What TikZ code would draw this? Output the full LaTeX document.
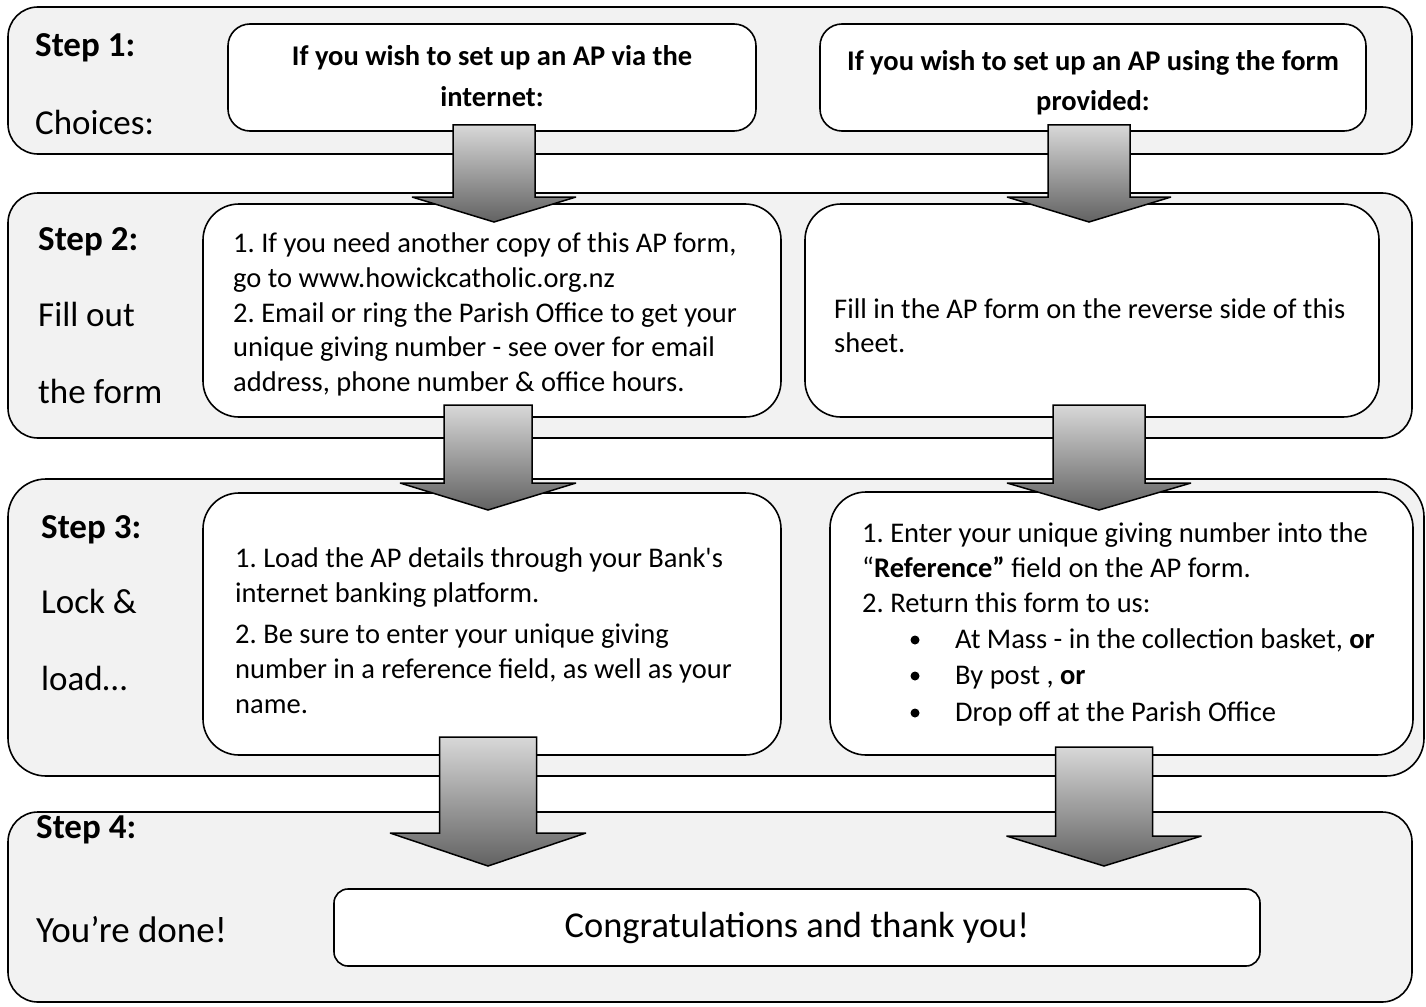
\documentclass[tikz,border=0pt]{standalone}
\usepackage{fontspec}
\setmainfont{Carlito}[Ligatures=TeXOff]
\definecolor{bandgray}{HTML}{F2F2F2}
\definecolor{arrowtop}{HTML}{D8D8D8}
\definecolor{arrowbot}{HTML}{626262}
\tikzset{
  band/.style={draw, line width=1.6pt, fill=bandgray, rounded corners=#1, inner sep=0pt},
  band/.default=30pt,
  box/.style={draw, line width=1.6pt, fill=white, rounded corners=#1, inner sep=0pt},
  box/.default=36pt,
  body/.style={anchor=base west, inner sep=0pt, font=\fontsize{28.5}{34.8}\selectfont},
  headline/.style={anchor=base, inner sep=0pt, font=\fontsize{28.5}{34.8}\selectfont\bfseries},
  steptitle/.style={anchor=base west, inner sep=0pt, font=\fontsize{35}{42}\selectfont\bfseries},
  steplabel/.style={anchor=base west, inner sep=0pt, font=\fontsize{35}{42}\selectfont},
  bulletdot/.style={circle, fill=black, inner sep=0pt, minimum size=9pt},
  arrowshape/.style={draw, line width=1.5pt, line join=miter, miter limit=4, top color=arrowtop, bottom color=arrowbot}
}
\newcommand\blockarrow[7]{% name, cx, top, neck, tip, shaft half, head half
  \coordinate (#1) at (#2,#3);
  \shade[arrowshape] (#2-#6,#3) -- (#2+#6,#3) -- (#2+#6,#4) -- (#2+#7,#4) -- (#2,#5)
    -- (#2-#7,#4) -- (#2-#6,#4) -- cycle;
}
\begin{document}
\frenchspacing
\begin{tikzpicture}[x=1pt, y=-1pt]
\useasboundingbox (0,0) rectangle (1426,1006);
\fill[white] (0,0) rectangle (1426,1006);

% bands
\node[band, minimum width=1404pt, minimum height=147pt] (band1) at (710,80.5) {};
\node[band, minimum width=1404pt, minimum height=245pt] (band2) at (710,315.5) {};
\node[band=38pt, minimum width=1416pt, minimum height=297pt] (band3) at (716,627.5) {};
\node[band, minimum width=1404pt, minimum height=190pt] (band4) at (710,907) {};

% boxes
\node[box=22pt, minimum width=528pt, minimum height=107pt] (b1l) at (492,77.5) {};
\node[box=22pt, minimum width=546pt, minimum height=107pt] (b1r) at (1093,77.5) {};
\node[box, minimum width=578pt, minimum height=213pt] (b2l) at (492,310.5) {};
\node[box, minimum width=574pt, minimum height=213pt] (b2r) at (1092,310.5) {};
\node[box, minimum width=578pt, minimum height=262pt] (b3l) at (492,624) {};
\node[box, minimum width=583pt, minimum height=263pt] (b3r) at (1121.5,623.5) {};
\node[box=14pt, minimum width=926pt, minimum height=77pt] (b4) at (797,927.5) {};

% step labels
\node[steptitle] (s1t) at (35,57) {Step 1:};
\node[steplabel] (s1a) at (35,135) {Choices:};
\node[steptitle] (s2t) at (38,250) {Step 2:};
\node[steplabel] (s2a) at (38,326) {Fill out};
\node[steplabel] (s2b) at (38,403) {the form};
\node[steptitle] (s3t) at (41,538) {Step 3:};
\node[steplabel] (s3a) at (41,613) {Lock \&};
\node[steplabel] (s3b) at (41,690) {load…};
\node[steptitle] (s4t) at (36,838) {Step 4:};
\node[steplabel, font=\fontsize{37}{44}\selectfont] (s4a) at (36,942) {You’re done!};

% step 1 boxes
\node[headline] (t1l1) at (492,66) {If you wish to set up an AP via the};
\node[headline] (t1l2) at (492,107) {internet:};
\node[headline] (t1r1) at (1093,71) {If you wish to set up an AP using the form};
\node[headline] (t1r2) at (1093,111) {provided:};

% step 2 boxes
\node[body] (t2l1) at (233,252) {1. If you need another copy of this AP form,};
\node[body] (t2l2) at (233,287) {go to www.howickcatholic.org.nz};
\node[body] (t2l3) at (233,322) {2. Email or ring the Parish Office to get your};
\node[body] (t2l4) at (233,356) {unique giving number - see over for email};
\node[body] (t2l5) at (233,391) {address, phone number \& office hours.};
\node[body] (t2r1) at (834,318) {Fill in the AP form on the reverse side of this};
\node[body] (t2r2) at (834,352) {sheet.};

% step 3 boxes
\node[body] (t3l1) at (235,567) {1. Load the AP details through your Bank's};
\node[body] (t3l2) at (235,602) {internet banking platform.};
\node[body] (t3l3) at (235,643) {2. Be sure to enter your unique giving};
\node[body] (t3l4) at (235,678) {number in a reference field, as well as your};
\node[body] (t3l5) at (235,713) {name.};
\node[body] (t3r1) at (862,542) {1. Enter your unique giving number into the};
\node[body] (t3r2) at (862,577) {“\textbf{Reference”} field on the AP form.};
\node[body] (t3r3) at (862,612) {2. Return this form to us:};
\node[bulletdot] (d1) at (915,640) {};
\node[body] (t3r4) at (955,648) {At Mass - in the collection basket, \textbf{or}};
\node[bulletdot] (d2) at (915,676) {};
\node[body] (t3r5) at (955,684) {By post , \textbf{or}};
\node[bulletdot] (d3) at (915,713) {};
\node[body] (t3r6) at (955,721) {Drop off at the Parish Office};

% step 4
\node[anchor=base, inner sep=0pt, font=\fontsize{36.4}{43}\selectfont] (t4) at (797,937) {Congratulations and thank you!};

% arrows
\blockarrow{a1l}{494}{125}{197}{222}{41}{82}
\blockarrow{a1r}{1089}{125}{197}{222}{41}{82}
\blockarrow{a2l}{488}{405}{483}{510}{44}{88}
\blockarrow{a2r}{1099}{405}{483}{510}{46}{92}
\blockarrow{a3l}{488}{737}{833}{866}{48.5}{98}
\blockarrow{a3r}{1104}{747}{836}{866}{48.5}{97.5}
\end{tikzpicture}
\end{document}
